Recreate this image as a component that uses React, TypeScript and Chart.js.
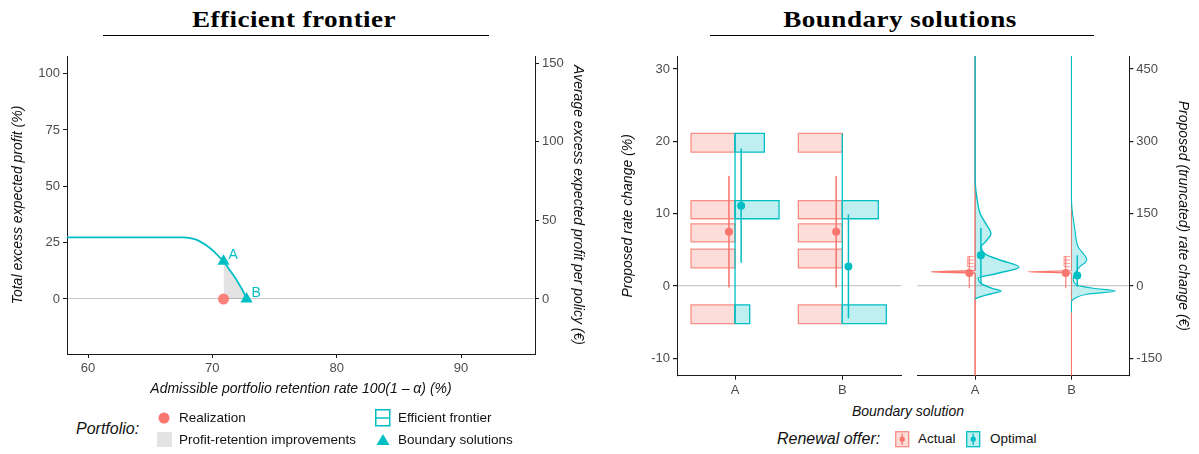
import React, { useEffect, useRef } from "react";
import { Chart, registerables } from "chart.js";

Chart.register(...registerables);

const FONT = "'Liberation Sans', Arial, Helvetica, sans-serif";
const TEAL = "#00BFC4";
const RED = "#F8766D";
const RED_FILL = "rgba(248,118,109,0.25)";
const RED_EDGE = "rgba(248,118,109,0.8)";
const TEAL_FILL = "rgba(0,191,196,0.25)";
const AXIS = "#1a1a1a";
const TICK_TEXT = "#4D4D4D";
const ZERO = "#C8C8C8";

// ---------------- Efficient frontier (left panel) ----------------
const RETENTION_TICKS = [60, 70, 80, 90];
const PROFIT_TICKS = [0, 25, 50, 75, 100];
const PROFIT_EUR_TICKS = [0, 50, 100, 150];
const RETENTION_RANGE = [58.31, 95.95];
const PROFIT_RANGE = [-24.4, 107.8];
const PROFIT_EUR_RANGE = [-35.0, 154.6];

const FRONTIER_RETENTION = [58.0, 67.7, 68.2, 68.7, 69.2, 69.7, 70.2, 70.6, 70.9, 71.2, 71.7, 72.2, 72.5, 72.75];
const FRONTIER_PROFIT = [27.3, 27.3, 27.0, 26.3, 24.9, 23.1, 20.7, 18.4, 16.8, 14.4, 10.5, 6.1, 3.1, 0];

const IMPROVEMENT_RETENTION = [70.9, 71.2, 71.7, 72.2, 72.5, 72.75];
const IMPROVEMENT_PROFIT = [16.8, 14.4, 10.5, 6.1, 3.1, 0];

const SOLUTION_LABELS = ["A", "B"];
const SOLUTION_RETENTION = [70.9, 72.75];
const SOLUTION_PROFIT = [16.8, 0];

const REALIZATION_RETENTION = [70.9];
const REALIZATION_PROFIT = [0];

// ---------------- Boundary solutions: rate change (%) ----------------
const BOUNDARY = ["A", "B"];
const PCT_TICKS = [-10, 0, 10, 20, 30];
const PCT_RANGE = [-12.4, 31.8];
const BIN_LOWER = [-5.2, 2.5, 6.1, 9.3, 18.5];
const BIN_UPPER = [-2.6, 5.1, 8.6, 11.8, 21.1];
const ACTUAL_SHARE_A = [20, 20, 20, 20, 20];
const ACTUAL_SHARE_B = [20, 20, 20, 20, 20];
const OPTIMAL_SHARE_A = [16.7, 0, 0, 50, 33.3];
const OPTIMAL_SHARE_B = [55, 0, 0, 45, 0];

const ACTUAL_PCT_MEAN = [7.5, 7.5];
const ACTUAL_PCT_LOW = [-0.2, -0.2];
const ACTUAL_PCT_HIGH = [15.2, 15.2];
const OPTIMAL_PCT_MEAN = [11.1, 2.7];
const OPTIMAL_PCT_LOW = [3.2, -4.5];
const OPTIMAL_PCT_HIGH = [19.0, 9.9];

// ---------------- Boundary solutions: rate change (€) ----------------
const EUR_TICKS = [-150, 0, 150, 300, 450];
const EUR_RANGE = [-186, 477];

const OPTIMAL_EUR_A = [477, 220, 178, 151, 130, 109, 92, 81.5, 64, 54, 39, 26, 16, 5.6, -4.8, -10.4, -17, -23.5, -27];
const OPTIMAL_DENS_A = [0, 0, 5, 11, 24, 36, 24, 14, 27, 57, 100, 50, 7, 13, 39, 59, 32, 8, 0];
const OPTIMAL_EUR_B = [477, 180, 116, 81.5, 54, 39, 26, 16, 2, -4.8, -10.4, -17, -25.5, -32.6, -55];
const OPTIMAL_DENS_B = [0, 0, 8, 15, 35, 18, 8, 4, 12, 50, 100, 35, 8, 0, 0];
const ACTUAL_EUR_A = [477, 32, 29.5, 27, -186];
const ACTUAL_DENS_A = [0, 0, 100, 0, 0];
const ACTUAL_EUR_B = [477, 32, 29.5, 27, -186];
const ACTUAL_DENS_B = [0, 0, 100, 0, 0];

const ACTUAL_EUR_MEAN = [27, 27];
const ACTUAL_EUR_LOW = [-4.8, -4.8];
const ACTUAL_EUR_HIGH = [60.8, 60.8];
const ACTUAL_EUR_MARKS = [40, 47, 54, 61];
const OPTIMAL_EUR_MEAN = [63.7, 22];
const OPTIMAL_EUR_LOW = [3.5, -1.4];
const OPTIMAL_EUR_HIGH = [121, 64];

// ---------------- layout constants ----------------
const BAR_HALF_WIDTH = 0.41;
const VIOLIN_HALF_WIDTH = 0.455;
const MID_DODGE = 0.057;
const RIGHT_DODGE = 0.06;

type Pt = { x: number; y: number };
const pts = (xs: number[], ys: number[]): Pt[] => xs.map((x, i) => ({ x, y: ys[i] }));

const tickFont = { family: FONT, size: 13 };
const titleFont = { family: FONT, size: 14, style: "italic" as const };
const fixedTicks = (values: number[]) => (scale: any) => {
  scale.ticks = values.map((v) => ({ value: v }));
};
const zeroGrid = (ctx: any) => (ctx.tick && ctx.tick.value === 0 ? ZERO : "rgba(0,0,0,0)");

const baseOptions = (padding: any) => ({
  responsive: false,
  maintainAspectRatio: false,
  animation: false,
  devicePixelRatio: 1,
  layout: { padding },
  plugins: { legend: { display: false }, tooltip: { enabled: false } },
});

const axisCommon = {
  type: "linear",
  bounds: "data",
  border: { display: true, color: AXIS, width: 1 },
  ticks: { font: tickFont, color: TICK_TEXT, padding: 3, maxRotation: 0, autoSkip: false },
};

// ---------- dataset helpers ----------
const seg = (x1: number, y1: number, x2: number, y2: number, color: string, width = 1.5) => ({
  data: [{ x: x1, y: y1 }, { x: x2, y: y2 }],
  borderColor: color,
  borderWidth: width,
  pointRadius: 0,
  fill: false,
  tension: 0,
});
const dot = (x: number, y: number, color: string, r: number) => ({
  data: [{ x, y }],
  showLine: false,
  pointRadius: r,
  pointBackgroundColor: color,
  pointBorderWidth: 0,
});
const rect = (c: number, w: number, lo: number, hi: number, fillC: string, edge: string) => ({
  data: [
    { x: c, y: lo },
    { x: c + w, y: lo },
    { x: c + w, y: hi },
    { x: c, y: hi },
    { x: c, y: lo },
  ],
  fill: "shape",
  backgroundColor: fillC,
  borderColor: edge,
  borderWidth: 1.3,
  pointRadius: 0,
  tension: 0,
});
const violin = (c: number, side: number, eur: number[], dens: number[], fillC: string, edge: string, width: number) => {
  const m = Math.max(...dens);
  return {
    indexAxis: "y",
    data: eur.map((e, i) => ({ x: c + (side * dens[i] * VIOLIN_HALF_WIDTH) / m, y: e })),
    fill: "shape",
    backgroundColor: fillC,
    borderColor: edge,
    borderWidth: width,
    pointRadius: 0,
    cubicInterpolationMode: "monotone",
  };
};
const withOrder = (ds: any[]) => ds.map((d, i) => ({ ...d, order: ds.length - i }));

// ---------- left chart ----------
const solutionLabelPlugin = {
  id: "solutionLabels",
  afterDatasetsDraw(chart: any) {
    const idx = chart.data.datasets.findIndex((d: any) => d.id === "solutions");
    const meta = chart.getDatasetMeta(idx);
    const ctx = chart.ctx;
    ctx.save();
    ctx.fillStyle = TEAL;
    ctx.font = `14px ${FONT}`;
    ctx.textAlign = "left";
    ctx.textBaseline = "middle";
    meta.data.forEach((p: any, i: number) => ctx.fillText(SOLUTION_LABELS[i], p.x + 5, p.y - 6));
    ctx.restore();
  },
};

const leftConfig = () => ({
  type: "line",
  data: {
    datasets: withOrder([
      {
        data: pts(IMPROVEMENT_RETENTION, IMPROVEMENT_PROFIT),
        fill: "origin",
        backgroundColor: "rgba(0,0,0,0.11)",
        borderWidth: 0,
        pointRadius: 0,
        cubicInterpolationMode: "monotone",
      },
      {
        data: pts(FRONTIER_RETENTION, FRONTIER_PROFIT),
        borderColor: TEAL,
        borderWidth: 1.8,
        pointRadius: 0,
        fill: false,
        cubicInterpolationMode: "monotone",
      },
      { ...dot(REALIZATION_RETENTION[0], REALIZATION_PROFIT[0], "rgba(248,118,109,0.9)", 5.5) },
      {
        id: "solutions",
        data: pts(SOLUTION_RETENTION, SOLUTION_PROFIT),
        showLine: false,
        pointStyle: "triangle",
        pointRadius: 7,
        pointBackgroundColor: TEAL,
        pointBorderColor: TEAL,
        pointBorderWidth: 0,
      },
    ]),
  },
  options: {
    ...baseOptions({ top: 56, left: 0, right: 0, bottom: 0 }),
    scales: {
      x: {
        ...axisCommon,
        min: RETENTION_RANGE[0],
        max: RETENTION_RANGE[1],
        afterBuildTicks: fixedTicks(RETENTION_TICKS),
        afterFit: (s: any) => {
          s.height = 56;
        },
        grid: { drawOnChartArea: false, tickLength: 4, tickColor: AXIS },
        title: {
          display: true,
          text: "Admissible portfolio retention rate 100(1 \u2013 \u03B1) (%)",
          font: titleFont,
          color: "#111",
          padding: { top: 0, bottom: 12 },
        },
      },
      y: {
        ...axisCommon,
        position: "left",
        min: PROFIT_RANGE[0],
        max: PROFIT_RANGE[1],
        afterBuildTicks: fixedTicks(PROFIT_TICKS),
        afterFit: (s: any) => {
          s.width = 67;
        },
        grid: { color: zeroGrid, lineWidth: 1, tickLength: 4, tickColor: AXIS },
        title: {
          display: true,
          text: "Total excess expected profit (%)",
          font: titleFont,
          color: "#111",
          padding: { top: 10, bottom: 0 },
        },
      },
      y2: {
        ...axisCommon,
        position: "right",
        min: PROFIT_EUR_RANGE[0],
        max: PROFIT_EUR_RANGE[1],
        afterBuildTicks: fixedTicks(PROFIT_EUR_TICKS),
        afterFit: (s: any) => {
          s.width = 65;
        },
        grid: { drawOnChartArea: false, tickLength: 4, tickColor: AXIS },
        title: {
          display: true,
          text: "Average excess expected profit per policy (\u20AC)",
          font: titleFont,
          color: "#111",
          padding: { top: 14, bottom: 0 },
        },
      },
    },
  },
  plugins: [solutionLabelPlugin],
});

// ---------- middle chart ----------
const midConfig = () => {
  const ds: any[] = [];
  const actual = [ACTUAL_SHARE_A, ACTUAL_SHARE_B];
  const optimal = [OPTIMAL_SHARE_A, OPTIMAL_SHARE_B];
  BOUNDARY.forEach((_, k) => {
    const c = k + 1;
    const m = Math.max(...actual[k]);
    actual[k].forEach((s, i) => {
      if (s > 0) ds.push(rect(c, (-s / m) * BAR_HALF_WIDTH, BIN_LOWER[i], BIN_UPPER[i], RED_FILL, RED_EDGE));
    });
  });
  BOUNDARY.forEach((_, k) => {
    const c = k + 1;
    const m = Math.max(...optimal[k]);
    optimal[k].forEach((s, i) => {
      if (s > 0) ds.push(rect(c, (s / m) * BAR_HALF_WIDTH, BIN_LOWER[i], BIN_UPPER[i], TEAL_FILL, TEAL));
    });
    ds.push(seg(c, Math.min(...BIN_LOWER), c, Math.max(...BIN_UPPER), TEAL, 1.3));
  });
  BOUNDARY.forEach((_, k) => {
    const c = k + 1;
    ds.push(seg(c - MID_DODGE, ACTUAL_PCT_LOW[k], c - MID_DODGE, ACTUAL_PCT_HIGH[k], RED, 1.5));
    ds.push(dot(c - MID_DODGE, ACTUAL_PCT_MEAN[k], RED, 4));
    ds.push(seg(c + MID_DODGE, OPTIMAL_PCT_LOW[k], c + MID_DODGE, OPTIMAL_PCT_HIGH[k], TEAL, 1.5));
    ds.push(dot(c + MID_DODGE, OPTIMAL_PCT_MEAN[k], TEAL, 4));
  });
  return {
    type: "line",
    data: { datasets: withOrder(ds) },
    options: {
      ...baseOptions({ top: 56, left: 0, right: 4, bottom: 0 }),
      scales: {
        x: {
          ...axisCommon,
          min: 0.459,
          max: 2.547,
          afterBuildTicks: fixedTicks(BOUNDARY.map((_, i) => i + 1)),
          afterFit: (s: any) => {
            s.height = 24.3;
          },
          ticks: { ...axisCommon.ticks, callback: (v: number) => BOUNDARY[Math.round(v) - 1] },
          grid: { drawOnChartArea: false, tickLength: 4, tickColor: AXIS },
        },
        y: {
          ...axisCommon,
          position: "left",
          min: PCT_RANGE[0],
          max: PCT_RANGE[1],
          afterBuildTicks: fixedTicks(PCT_TICKS),
          afterFit: (s: any) => {
            s.width = 77;
          },
          grid: { color: zeroGrid, lineWidth: 1.2, tickLength: 4, tickColor: AXIS },
          title: {
            display: true,
            text: "Proposed rate change (%)",
            font: titleFont,
            color: "#111",
            padding: { top: 19.6, bottom: 0 },
          },
        },
      },
    },
  };
};

// ---------- right chart ----------
const rightConfig = () => {
  const ds: any[] = [];
  const actEur = [ACTUAL_EUR_A, ACTUAL_EUR_B];
  const actDens = [ACTUAL_DENS_A, ACTUAL_DENS_B];
  const optEur = [OPTIMAL_EUR_A, OPTIMAL_EUR_B];
  const optDens = [OPTIMAL_DENS_A, OPTIMAL_DENS_B];
  BOUNDARY.forEach((_, k) => {
    ds.push(violin(k + 1, -1, actEur[k], actDens[k], "rgba(248,118,109,0.35)", RED, k === 0 ? 1.6 : 1.1));
  });
  BOUNDARY.forEach((_, k) => {
    ds.push(violin(k + 1, 1, optEur[k], optDens[k], TEAL_FILL, TEAL, k === 0 ? 1.4 : 1.1));
  });
  BOUNDARY.forEach((_, k) => {
    const c = k + 1;
    const xr = c - RIGHT_DODGE;
    const xm = c - 0.077;
    ds.push(seg(xm, Math.min(...ACTUAL_EUR_MARKS), xm, Math.max(...ACTUAL_EUR_MARKS), "rgba(248,118,109,0.75)", 1));
    ACTUAL_EUR_MARKS.forEach((v) => ds.push(seg(xm, v, c - 0.015, v, "rgba(248,118,109,0.75)", 1)));
    ds.push(seg(xr, ACTUAL_EUR_LOW[k], xr, ACTUAL_EUR_HIGH[k], "rgba(248,118,109,0.8)", 1.4));
    ds.push(dot(xr, ACTUAL_EUR_MEAN[k], RED, 4));
    const xo = c + RIGHT_DODGE;
    ds.push(seg(xo, OPTIMAL_EUR_LOW[k], xo, OPTIMAL_EUR_HIGH[k], TEAL, 1.5));
    ds.push(dot(xo, OPTIMAL_EUR_MEAN[k], TEAL, 4));
  });
  return {
    type: "line",
    data: { datasets: withOrder(ds) },
    options: {
      ...baseOptions({ top: 56, left: 12.3, right: 0, bottom: 0 }),
      scales: {
        x: {
          ...axisCommon,
          min: 0.4,
          max: 2.6,
          afterBuildTicks: fixedTicks(BOUNDARY.map((_, i) => i + 1)),
          afterFit: (s: any) => {
            s.height = 24.3;
          },
          ticks: { ...axisCommon.ticks, callback: (v: number) => BOUNDARY[Math.round(v) - 1] },
          grid: { drawOnChartArea: false, tickLength: 4, tickColor: AXIS },
        },
        y: {
          ...axisCommon,
          position: "right",
          min: EUR_RANGE[0],
          max: EUR_RANGE[1],
          afterBuildTicks: fixedTicks(EUR_TICKS),
          afterFit: (s: any) => {
            s.width = 69.7;
          },
          grid: { color: zeroGrid, lineWidth: 1.2, tickLength: 4, tickColor: AXIS },
          title: {
            display: true,
            text: "Proposed (truncated) rate change (\u20AC)",
            font: titleFont,
            color: "#111",
            padding: { top: 7.6, bottom: 0 },
          },
        },
      },
    },
  };
};

function ChartBox({ left, top, width, height, make }: any) {
  const ref = useRef<HTMLCanvasElement | null>(null);
  useEffect(() => {
    if (!ref.current) return;
    const chart = new Chart(ref.current, make());
    return () => chart.destroy();
  }, []);
  return (
    <canvas
      ref={ref}
      width={width}
      height={height}
      style={{ position: "absolute", left, top, width, height, display: "block" }}
    />
  );
}

const txt = (left: number, cy: number, text: string, extra: any = {}) => (
  <div
    style={{
      position: "absolute",
      left,
      top: cy - 9,
      lineHeight: "18px",
      fontSize: 13.5,
      whiteSpace: "nowrap",
      color: "#111",
      ...extra,
    }}
  >
    {text}
  </div>
);

const titleStyle: any = {
  position: "absolute",
  width: 400,
  top: 7,
  textAlign: "center",
  fontFamily: "'Liberation Serif', 'Times New Roman', serif",
  fontWeight: "bold",
  fontSize: 24,
  letterSpacing: "0.4px",
  lineHeight: "25px",
  color: "#000",
  transform: "scaleX(1.13)",
  transformOrigin: "50% 50%",
};

export default function App() {
  return (
    <div
      style={{
        position: "fixed",
        left: 0,
        top: 0,
        width: 1199,
        height: 454,
        background: "#fff",
        overflow: "hidden",
        fontFamily: FONT,
      }}
    >
      <div style={{ ...titleStyle, left: 294 - 200 }}>Efficient frontier</div>
      <div style={{ position: "absolute", left: 103, top: 34.5, width: 386, borderTop: "1.4px solid #000" }} />
      <div style={{ ...titleStyle, left: 900 - 200 }}>Boundary solutions</div>
      <div style={{ position: "absolute", left: 710, top: 34.5, width: 384, borderTop: "1.4px solid #000" }} />

      <ChartBox left={0} top={0} width={600} height={410} make={leftConfig} />
      <ChartBox left={600} top={0} width={305} height={400} make={midConfig} />
      <ChartBox left={905} top={0} width={294} height={400} make={rightConfig} />

      {/* shared x title */}
      <div
        style={{
          position: "absolute",
          left: 808,
          width: 200,
          top: 401.5,
          lineHeight: "18px",
          textAlign: "center",
          fontSize: 14,
          fontStyle: "italic",
          color: "#111",
        }}
      >
        Boundary solution
      </div>

      {/* left legend */}
      {txt(76, 429, "Portfolio:", { fontSize: 16, fontStyle: "italic" })}
      <svg style={{ position: "absolute", left: 157, top: 411 }} width={14} height={14}>
        <circle cx={7} cy={7} r={5.5} fill={RED} />
      </svg>
      {txt(179, 418, "Realization")}
      <svg style={{ position: "absolute", left: 157, top: 432 }} width={15} height={15}>
        <rect x={0} y={0} width={15} height={15} fill="#E3E3E3" />
      </svg>
      {txt(179, 440, "Profit-retention improvements")}
      <svg style={{ position: "absolute", left: 375, top: 409 }} width={16} height={18}>
        <rect x={0.75} y={0.75} width={14} height={16} fill="#fff" stroke={TEAL} strokeWidth={1.5} />
        <line x1={0.75} y1={9} x2={14.75} y2={9} stroke={TEAL} strokeWidth={1.5} />
      </svg>
      {txt(398, 418, "Efficient frontier")}
      <svg style={{ position: "absolute", left: 376, top: 433 }} width={14} height={13}>
        <polygon points="7,1 13.5,12 0.5,12" fill={TEAL} />
      </svg>
      {txt(398, 440, "Boundary solutions")}

      {/* right legend */}
      {txt(777, 439, "Renewal offer:", { fontSize: 16, fontStyle: "italic" })}
      <svg style={{ position: "absolute", left: 895, top: 431 }} width={15} height={17}>
        <rect x={0.7} y={0.7} width={13} height={15} fill={RED_FILL} stroke={RED_EDGE} strokeWidth={1.3} />
        <line x1={7.2} y1={2.5} x2={7.2} y2={14} stroke={RED} strokeWidth={1.3} />
        <circle cx={7.2} cy={8.2} r={2.6} fill={RED} />
      </svg>
      {txt(918, 439, "Actual")}
      <svg style={{ position: "absolute", left: 966, top: 431 }} width={15} height={17}>
        <rect x={0.7} y={0.7} width={13} height={15} fill={TEAL_FILL} stroke={TEAL} strokeWidth={1.3} />
        <line x1={7.2} y1={2.5} x2={7.2} y2={14} stroke={TEAL} strokeWidth={1.3} />
        <circle cx={7.2} cy={8.2} r={2.6} fill={TEAL} />
      </svg>
      {txt(990, 439, "Optimal")}
    </div>
  );
}
